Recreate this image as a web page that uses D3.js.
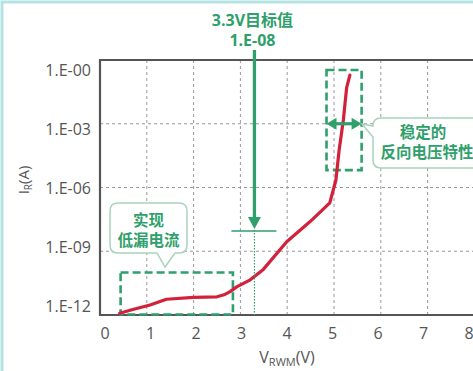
<!DOCTYPE html>
<html><head><meta charset="utf-8">
<script src="https://cdn.jsdelivr.net/npm/d3@7"></script>
<style>body{margin:0;background:#fff}svg{display:block}</style>
</head><body>
<svg id="c" width="473" height="371"></svg>
<script>
// ---- data ----
const xTicks = [0,1,2,3,4,5,6,7,8];
const yTickValues = [1, 1e-3, 1e-6, 1e-9, 1e-12];
const yTickLabels = ["1.E-00","1.E-03","1.E-06","1.E-09","1.E-12"];
const curveV = [0.42,0.70,1.07,1.42,2.00,2.50,2.65,2.78,2.92,3.21,3.49,3.99,4.49,4.91,5.04,5.11,5.20,5.27,5.34];
const curveI = [1.2e-12,1.8e-12,2.95e-12,5.5e-12,6.8e-12,7.2e-12,8.9e-12,1.26e-11,2.1e-11,4.5e-11,1.4e-10,2.8e-9,2.5e-8,1.9e-7,2.2e-6,5.8e-5,1.5e-3,0.05,0.195];
const targetV = 3.3, targetI = 1e-8;
const targetLabel = ["3.3V目标值","1.E-08"];
const lowBoxV = [0.44, 2.84], lowBoxI = [1.05e-12, 1e-10];
const stableBoxV = [4.84, 5.59], stableBoxI = [6.6e-6, 0.34];
const stableArrowI = 1e-3;
const callout1 = ["实现","低漏电流"];
const callout2 = ["稳定的","反向电压特性"];

// ---- layout ----
const svg = d3.select("#c");
const L = 100, T = 60, B = 315, R = 474.4;
const x = d3.scaleLinear().domain([0,8]).range([L,R]);
const xl = d3.scaleLinear().domain([0,8]).range([105,469]);   // label positions
const y = d3.scaleLog().domain([1e-12,1]).range([B,T]);
const yl = d3.scaleLog().domain([1e-12,1]).range([306,70]);   // label positions
const green = "#2f9f6b", gray = "#555", font = "'Open Sans','Noto Sans CJK SC',sans-serif";

// frame border
svg.append("path").attr("d","M2,371 L2,2 L473,2").attr("fill","none").attr("stroke","#b5e3e3").attr("stroke-width",3);

// gridlines
svg.append("g").selectAll("line").data(xTicks.filter(d=>d>0)).join("line")
  .attr("x1",d=>x(d)).attr("x2",d=>x(d)).attr("y1",T).attr("y2",B)
  .attr("stroke","#999").attr("stroke-width",1).attr("stroke-dasharray","3,3");
svg.append("g").selectAll("line").data(yTickValues.slice(1,4)).join("line")
  .attr("x1",L).attr("x2",473).attr("y1",d=>y(d)).attr("y2",d=>y(d))
  .attr("stroke","#999").attr("stroke-width",1).attr("stroke-dasharray","3,3");

// axes frame
svg.append("path").attr("d",`M473,${T} L${L},${T} L${L},${B} L473,${B}`)
  .attr("fill","none").attr("stroke","#555").attr("stroke-width",2.2);

// tick labels
svg.append("g").selectAll("text").data(xTicks).join("text")
  .attr("x",d=>xl(d)).attr("y",339).attr("text-anchor","middle")
  .attr("font-family",font).attr("font-size",16).attr("fill",gray).text(d=>d);
svg.append("g").selectAll("text").data(yTickValues).join("text")
  .attr("x",91).attr("y",d=>yl(d)+5.5).attr("text-anchor","end")
  .attr("font-family",font).attr("font-size",16).attr("fill",gray).text((d,i)=>yTickLabels[i]);

// axis titles
const yt = svg.append("text").attr("transform","translate(29,180) rotate(-90)")
  .attr("text-anchor","middle").attr("font-family",font).attr("font-size",15).attr("fill",gray);
yt.append("tspan").text("I");
yt.append("tspan").attr("font-size",10).attr("dy",3).text("R");
yt.append("tspan").attr("dy",-3).text("(A)");
const xt = svg.append("text").attr("x",287).attr("y",363)
  .attr("text-anchor","middle").attr("font-family",font).attr("font-size",16).attr("fill",gray);
xt.append("tspan").text("V");
xt.append("tspan").attr("font-size",11).attr("dy",3).text("RWM");
xt.append("tspan").attr("dy",-3).text("(V)");

// dashed boxes
function dbox(vs, is){
  svg.append("rect").attr("x",x(vs[0])).attr("y",y(is[1]))
    .attr("width",x(vs[1])-x(vs[0])).attr("height",y(is[0])-y(is[1]))
    .attr("fill","none").attr("stroke",green).attr("stroke-width",2.6).attr("stroke-dasharray","8,4");
}
dbox(lowBoxV, lowBoxI);
dbox(stableBoxV, stableBoxI);

// red curve
const pts = curveV.map((v,i)=>[v,curveI[i]]);
svg.append("path").datum(pts)
  .attr("d",d3.line().x(d=>x(d[0])).y(d=>y(d[1])).curve(d3.curveLinear))
  .attr("fill","none").attr("stroke","#d3203b").attr("stroke-width",3.2)
  .attr("stroke-linecap","round").attr("stroke-linejoin","round");

// target annotation
const tx = x(targetV), ty = y(targetI);
svg.append("line").attr("x1",tx).attr("x2",tx).attr("y1",ty).attr("y2",B)
  .attr("stroke",green).attr("stroke-width",1.2).attr("stroke-dasharray","1.5,1.5");
svg.append("line").attr("x1",tx-23).attr("x2",tx+22).attr("y1",ty+1).attr("y2",ty+1)
  .attr("stroke",green).attr("stroke-width",1.6);
svg.append("line").attr("x1",tx).attr("x2",tx).attr("y1",50).attr("y2",ty-12)
  .attr("stroke",green).attr("stroke-width",3.3);
svg.append("path").attr("d",`M${tx-6.5},${ty-13} L${tx+6.5},${ty-13} L${tx},${ty-1} Z`).attr("fill",green);
svg.append("g").selectAll("text").data(targetLabel).join("text")
  .attr("x",tx-2).attr("y",(d,i)=>26+i*20).attr("text-anchor","middle")
  .attr("font-family",font).attr("font-size",16).attr("font-weight","bold").attr("fill",green).text(d=>d);

// stable double arrow
const ay = y(stableArrowI), ax1 = x(stableBoxV[0]), ax2 = x(stableBoxV[1]);
svg.append("line").attr("x1",ax1+6).attr("x2",ax2-6).attr("y1",ay).attr("y2",ay)
  .attr("stroke",green).attr("stroke-width",3.2);
svg.append("path").attr("d",`M${ax1},${ay} L${ax1+10},${ay-6} L${ax1+10},${ay+6} Z M${ax2},${ay} L${ax2-10},${ay-6} L${ax2-10},${ay+6} Z`).attr("fill",green);

// callouts
const cs = "#a9d3bd";
svg.append("path").attr("d",
  "M118,203 H179 Q187,203 187,211 V245 Q187,253 179,253 H175 L165,267 L157,253 H118 Q110,253 110,245 V211 Q110,203 118,203 Z")
  .attr("fill","#fff").attr("stroke",cs).attr("stroke-width",1.5);
svg.append("g").selectAll("text").data(callout1).join("text")
  .attr("x",148.5).attr("y",(d,i)=>226+i*20).attr("text-anchor","middle")
  .attr("font-family",font).attr("font-size",15.5).attr("font-weight","bold").attr("fill",green).text(d=>d);
svg.append("path").attr("d",
  "M480,118 H381 Q373,118 373,126 V126 L362,124 L373,137 V160 Q373,168 381,168 H480")
  .attr("fill","#fff").attr("stroke",cs).attr("stroke-width",1.5);
svg.append("g").selectAll("text").data(callout2).join("text")
  .attr("x",(d,i)=>i?427:423).attr("y",(d,i)=>138+i*20).attr("text-anchor","middle")
  .attr("font-family",font).attr("font-size",15.5).attr("font-weight","bold").attr("fill",green).text(d=>d);
</script>
</body></html>
